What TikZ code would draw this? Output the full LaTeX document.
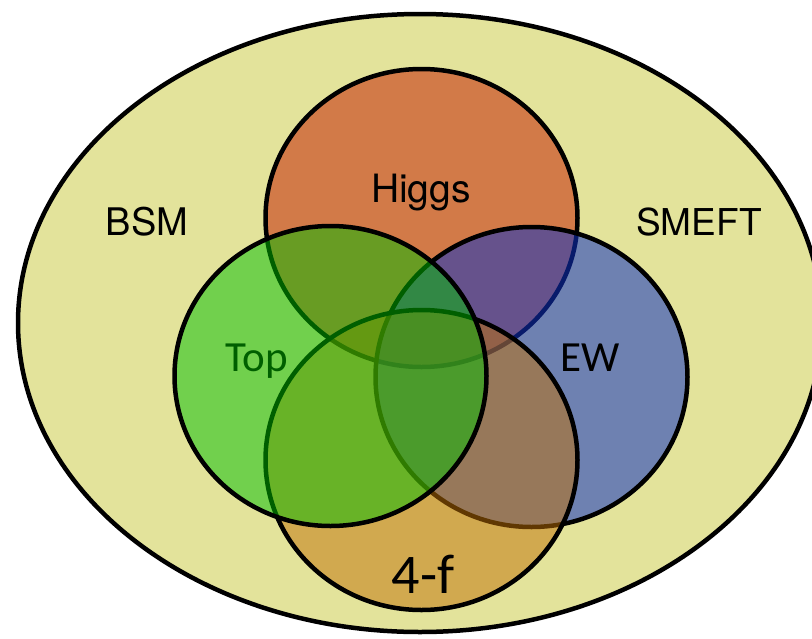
\documentclass[tikz,border=0pt]{standalone}
\usepackage{fontspec}
\setmainfont{TeX Gyre Heros}
\newfontfamily\calfont{Carlito}
\definecolor{bsmyellow}{RGB}{227,227,155}
\definecolor{higgsorange}{RGB}{210,122,72}
\definecolor{ewblue}{RGB}{15,50,196}
\definecolor{fourfgold}{RGB}{193,113,5}
\definecolor{topgreen}{RGB}{0,190,0}
\tikzset{
  setline/.style={draw=black, line width=4.5pt},
  lab/.style={anchor=base, inner sep=0pt, text=black},
}
\begin{document}
\begin{tikzpicture}[x=1pt,y=-1pt]
\clip (0,0) rectangle (812,638);
% outer ellipse
\draw[setline, fill=bsmyellow] (420,323) ellipse [x radius=402, y radius=309];
\node[lab, font=\fontsize{38}{40}\selectfont] (bsm) at (147,235) {BSM};
\node[lab, font=\fontsize{37}{40}\selectfont] (smeft) at (699,235) {SMEFT};
% Higgs
\draw[setline, fill=higgsorange] (421.5,218) ellipse [x radius=156, y radius=149];
\node[lab, font=\fontsize{39}{40}\selectfont] (higgs) at (421,202) {Higgs};
% EW
\draw[setline, fill=ewblue, fill opacity=0.55] (531.5,377) ellipse [x radius=156, y radius=150];
\node[lab, font=\calfont\fontsize{43}{44}\selectfont] (ew) at (590,371) {EW};
% 4-f
\draw[setline, fill=fourfgold, fill opacity=0.5] (421.5,460) ellipse [x radius=156, y radius=150];
\node[lab, font=\calfont\fontsize{56}{58}\selectfont] (fourf) at (423,593) {4-f};
% Top
\node[lab, font=\calfont\fontsize{43}{44}\selectfont] (top) at (257,371) {Top};
\draw[setline, fill=topgreen, fill opacity=0.5] (330.5,376) ellipse [x radius=156, y radius=150];
\end{tikzpicture}
\end{document}
